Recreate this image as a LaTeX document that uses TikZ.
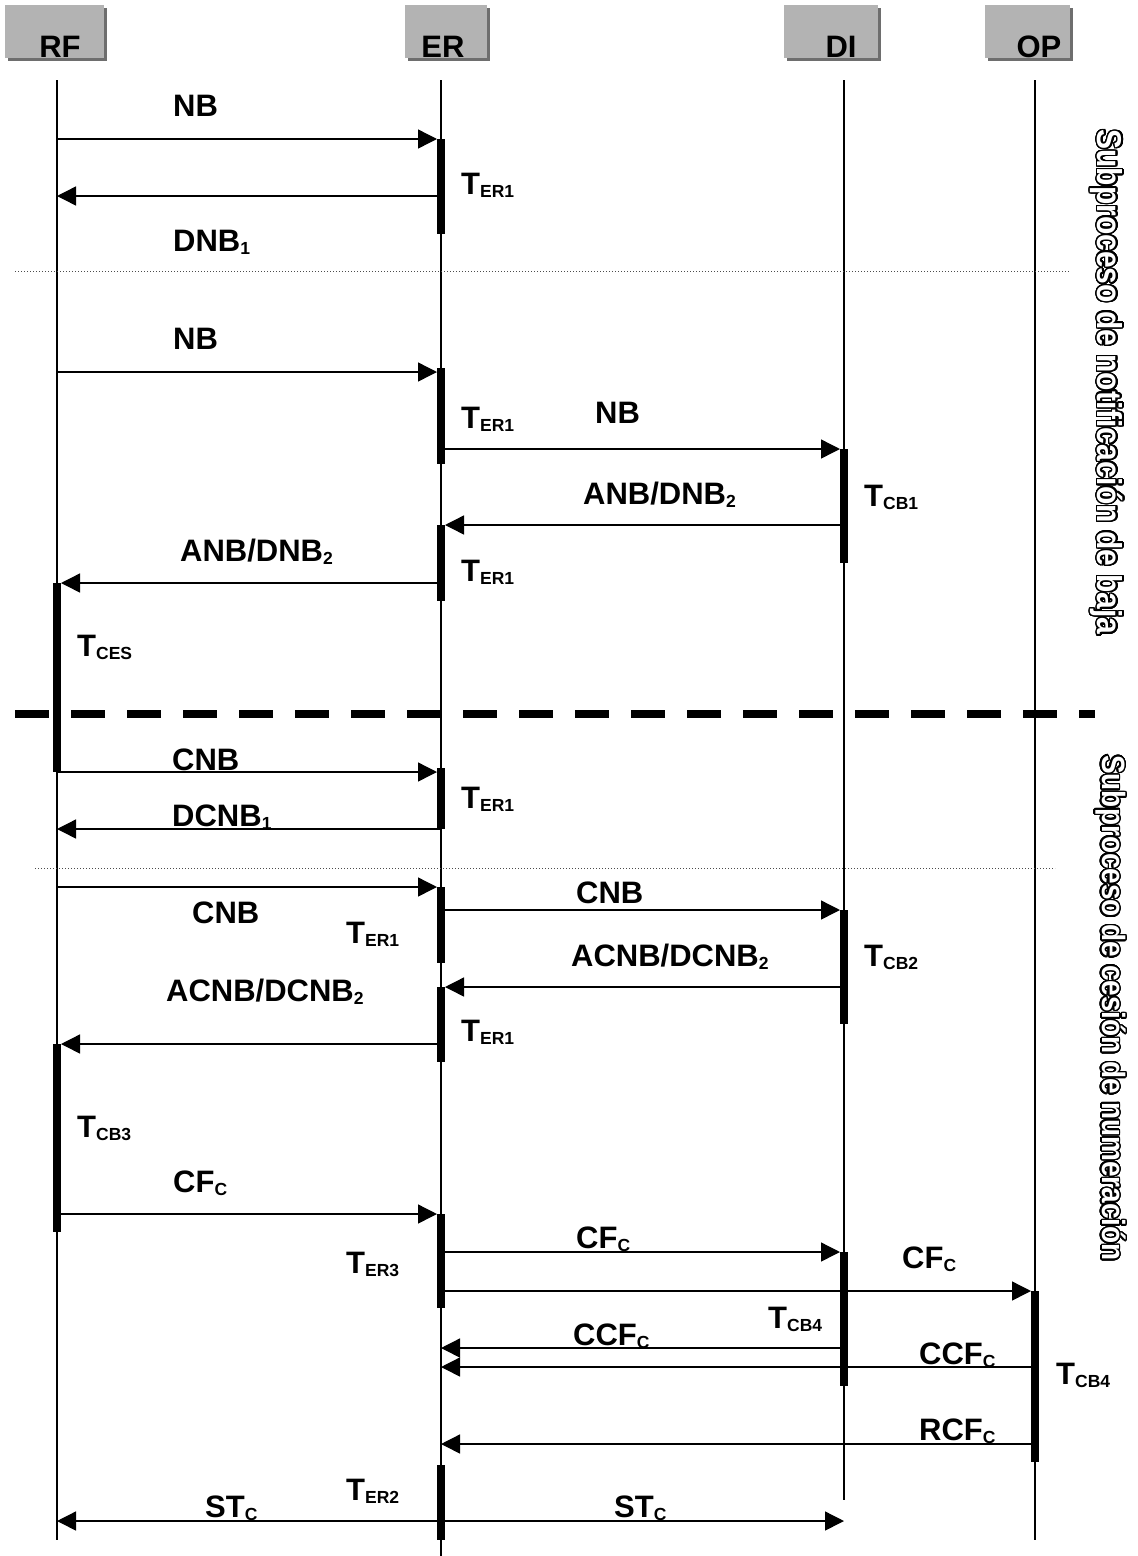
\documentclass[tikz,border=0pt]{standalone}
\usepackage{fontspec}
\setmainfont{Liberation Sans}
\usepackage{contour}
\usetikzlibrary{arrows.meta}
\contourlength{1.4pt}
\contournumber{32}
\definecolor{boxgray}{HTML}{B3B3B3}
\definecolor{shadowgray}{HTML}{6E6E6E}
\newcommand{\sbs}[1]{\raisebox{-3pt}{\fontsize{17.5}{17.5}\selectfont #1}}
\newcommand{\outl}[1]{\scalebox{1}[1.15]{\contour{black}{\textcolor{white}{#1}}}}
\begin{document}
\begin{tikzpicture}[x=1pt,y=-1pt,
  lbl/.style={anchor=base west, inner sep=0pt, font=\fontsize{31}{31}\selectfont\bfseries},
  hdr/.style={anchor=base, inner sep=0pt, font=\fontsize{31}{31}\selectfont\bfseries},
  vtxt/.style={rotate=-90, inner sep=0pt, font=\bfseries},
  life/.style={line width=1.2pt},
  msg/.style={line width=1.4pt, -{Triangle[length=19pt,width=19pt]}},
  actbar/.style={line width=8pt, line cap=butt},
  sep/.style={line width=0.8pt, dash pattern=on 1pt off 2pt, black!70},
  bigsep/.style={line width=8pt, dash pattern=on 34pt off 22pt}]
\useasboundingbox (0,0) rectangle (1138,1556);
\fill[white] (0,0) rectangle (1138,1556);

% header boxes
\fill[shadowgray] (8,8) rectangle (107,61);
\fill[boxgray] (5,5) rectangle (104,58);
\fill[shadowgray] (408,8) rectangle (490,61);
\fill[boxgray] (405,5) rectangle (487,58);
\fill[shadowgray] (787,8) rectangle (881,61);
\fill[boxgray] (784,5) rectangle (878,58);
\fill[shadowgray] (988,8) rectangle (1073,61);
\fill[boxgray] (985,5) rectangle (1070,58);
\node[hdr] (hRF) at (60,57) {RF};
\node[hdr] (hER) at (443,57) {ER};
\node[hdr] (hDI) at (841,57) {DI};
\node[hdr] (hOP) at (1039,57) {OP};

% lifelines
\coordinate (rf) at (57,80);
\coordinate (er) at (441,80);
\coordinate (di) at (844,80);
\coordinate (op) at (1035,80);
\coordinate (rfend) at (57,1540);
\coordinate (erend) at (441,1556);
\coordinate (diend) at (844,1500);
\coordinate (opend) at (1035,1540);
\draw[life] (rf) -- (rfend);
\draw[life] (er) -- (erend);
\draw[life] (di) -- (diend);
\draw[life] (op) -- (opend);

% separators
\draw[sep] (15,271) -- (1070,271);
\draw[sep] (35,868) -- (1055,868);
\draw[bigsep] (15,714) -- (1095,714);

% messages
\draw[msg, shorten >=4pt] (rf |- 0,139) -- (er |- 0,139);
\draw[msg] (er |- 0,196) -- (rf |- 0,196);
\draw[msg, shorten >=4pt] (rf |- 0,372) -- (er |- 0,372);
\draw[msg, shorten >=4pt] (er |- 0,449) -- (di |- 0,449);
\draw[msg, shorten >=4pt] (di |- 0,525) -- (er |- 0,525);
\draw[msg, shorten >=4pt] (er |- 0,583) -- (rf |- 0,583);
\draw[msg, shorten >=4pt] (rf |- 0,772) -- (er |- 0,772);
\draw[msg] (er |- 0,829) -- (rf |- 0,829);
\draw[msg, shorten >=4pt] (rf |- 0,887) -- (er |- 0,887);
\draw[msg, shorten >=4pt] (er |- 0,910) -- (di |- 0,910);
\draw[msg, shorten >=4pt] (di |- 0,987) -- (er |- 0,987);
\draw[msg, shorten >=4pt] (er |- 0,1044) -- (rf |- 0,1044);
\draw[msg, shorten >=4pt] (rf |- 0,1214) -- (er |- 0,1214);
\draw[msg, shorten >=4pt] (er |- 0,1252) -- (di |- 0,1252);
\draw[msg, shorten >=4pt] (er |- 0,1291) -- (op |- 0,1291);
\draw[msg] (di |- 0,1348) -- (er |- 0,1348);
\draw[msg] (op |- 0,1367) -- (er |- 0,1367);
\draw[msg] (op |- 0,1444) -- (er |- 0,1444);
\draw[msg] (er |- 0,1521) -- (rf |- 0,1521);
\draw[msg] (er |- 0,1521) -- (di |- 0,1521);

% activation bars
\draw[actbar] (er |- 0,139) -- (er |- 0,234);
\draw[actbar] (er |- 0,368) -- (er |- 0,464);
\draw[actbar] (er |- 0,525) -- (er |- 0,601);
\draw[actbar] (er |- 0,768) -- (er |- 0,829);
\draw[actbar] (er |- 0,887) -- (er |- 0,963);
\draw[actbar] (er |- 0,987) -- (er |- 0,1062);
\draw[actbar] (er |- 0,1214) -- (er |- 0,1308);
\draw[actbar] (er |- 0,1465) -- (er |- 0,1540);
\draw[actbar] (di |- 0,449) -- (di |- 0,563);
\draw[actbar] (di |- 0,910) -- (di |- 0,1024);
\draw[actbar] (di |- 0,1252) -- (di |- 0,1386);
\draw[actbar] (rf |- 0,583) -- (rf |- 0,772);
\draw[actbar] (rf |- 0,1044) -- (rf |- 0,1232);
\draw[actbar] (op |- 0,1291) -- (op |- 0,1462);

% labels
\node[lbl] (m1) at (173,116) {NB};
\node[lbl] (t1) at (461,194) {T\sbs{ER1}};
\node[lbl] (m2) at (173,251) {DNB\sbs{1}};
\node[lbl] (m3) at (173,349) {NB};
\node[lbl] (t2) at (461,428) {T\sbs{ER1}};
\node[lbl] (m4) at (595,423) {NB};
\node[lbl] (m5) at (583,504) {ANB/DNB\sbs{2}};
\node[lbl] (t3) at (864,506) {T\sbs{CB1}};
\node[lbl] (m6) at (180,561) {ANB/DNB\sbs{2}};
\node[lbl] (t4) at (461,581) {T\sbs{ER1}};
\node[lbl] (t5) at (77,656) {T\sbs{CES}};
\node[lbl] (m7) at (172,770) {CNB};
\node[lbl] (t6) at (461,808) {T\sbs{ER1}};
\node[lbl] (m8) at (172,826) {DCNB\sbs{1}};
\node[lbl] (m9) at (192,923) {CNB};
\node[lbl] (t7) at (346,943) {T\sbs{ER1}};
\node[lbl] (m10) at (576,903) {CNB};
\node[lbl] (m11) at (571,966) {ACNB/DCNB\sbs{2}};
\node[lbl] (t8) at (864,966) {T\sbs{CB2}};
\node[lbl] (m12) at (166,1001) {ACNB/DCNB\sbs{2}};
\node[lbl] (t9) at (461,1041) {T\sbs{ER1}};
\node[lbl] (t10) at (77,1137) {T\sbs{CB3}};
\node[lbl] (m13) at (173,1192) {CF\sbs{C}};
\node[lbl] (t11) at (346,1273) {T\sbs{ER3}};
\node[lbl] (m14) at (576,1248) {CF\sbs{C}};
\node[lbl] (m15) at (902,1268) {CF\sbs{C}};
\node[lbl] (t12) at (768,1328) {T\sbs{CB4}};
\node[lbl] (m16) at (573,1345) {CCF\sbs{C}};
\node[lbl] (m17) at (919,1364) {CCF\sbs{C}};
\node[lbl] (t13) at (1056,1384) {T\sbs{CB4}};
\node[lbl] (m18) at (919,1440) {RCF\sbs{C}};
\node[lbl] (t14) at (346,1500) {T\sbs{ER2}};
\node[lbl] (m19) at (205,1517) {ST\sbs{C}};
\node[lbl] (m20) at (614,1517) {ST\sbs{C}};

% side titles
\node[vtxt, font=\fontsize{30}{30}\selectfont\bfseries] (s1) at (1106,382) {\outl{Subproceso de notificación de baja}};
\node[vtxt, font=\fontsize{28}{30}\selectfont\bfseries] (s2) at (1110,1008) {\outl{Subproceso de cesión de numeración}};
\end{tikzpicture}
\end{document}
